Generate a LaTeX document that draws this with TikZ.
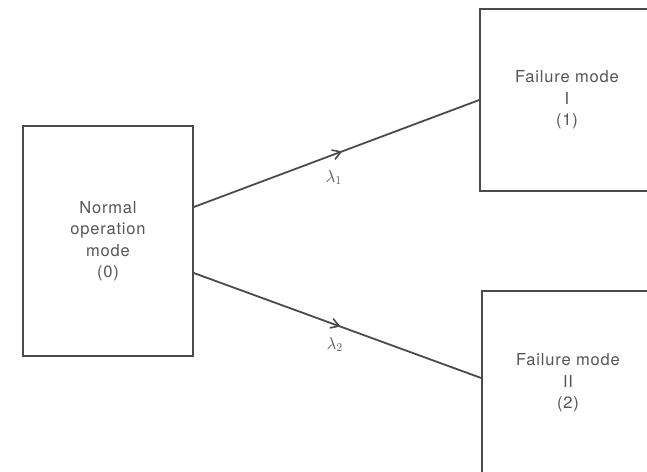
\documentclass[tikz,border=0pt]{standalone}
\usepackage{fontspec}
\setsansfont{TeX Gyre Heros}[LetterSpace=5]
\usetikzlibrary{arrows.meta,decorations.markings}
\definecolor{inkline}{HTML}{4A4A4A}
\definecolor{inktext}{HTML}{555555}
\tikzset{
  modebox/.style={draw=inkline, line width=1.6pt, rectangle, align=center,
    text=inktext, font=\sffamily\fontsize{16.5}{21.5}\selectfont, inner sep=0pt},
  trans/.style={draw=inkline, line width=1.8pt,
    postaction={decorate},
    decoration={markings, mark=at position #1 with {\arrow{Straight Barb[length=8pt,width=10pt,line width=1.6pt]}}}},
  ratelabel/.style={text=inktext, font=\fontsize{17}{20}\selectfont, inner sep=0pt}
}
\begin{document}
\begin{tikzpicture}[x=1pt,y=-1pt]
\useasboundingbox (0,0) rectangle (647,471);
\clip (0,0) rectangle (647,471);
\node[modebox, minimum width=170pt, minimum height=230pt] (L) at (108,241) {Normal\\operation\\mode\\(0)};
\node[modebox, minimum width=174pt, minimum height=182pt] (F1) at (567,100) {Failure mode\\I\\(1)};
\node[modebox, minimum width=172pt, minimum height=184pt] (F2) at (568,383) {Failure mode\\II\\(2)};
\draw[trans=0.52] ([yshift=34pt]L.east) -- (F1.west)
  node[ratelabel, pos=0.49, yshift=-23pt] (l1) {$\lambda_1$};
\draw[trans=0.51] ([yshift=-32pt]L.east) -- ([yshift=5pt]F2.west)
  node[ratelabel, pos=0.49, yshift=-20pt] (l2) {$\lambda_2$};
\end{tikzpicture}
\end{document}
